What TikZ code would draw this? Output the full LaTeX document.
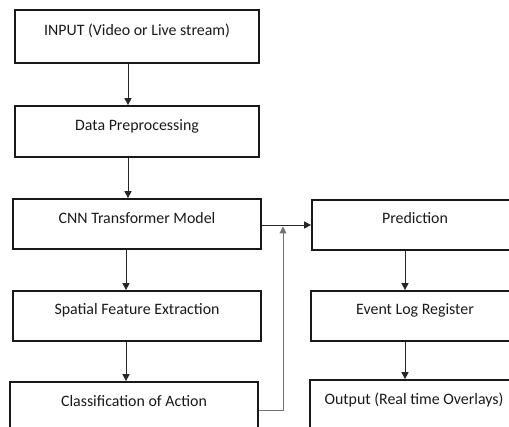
\documentclass[tikz,border=0pt]{standalone}
\usepackage{fontspec}
\setmainfont{Carlito}
\usetikzlibrary{arrows.meta}
\begin{document}
\begin{tikzpicture}[x=1pt,y=-1pt,
  box/.style={draw=black!90, line width=1.7pt, minimum width=#1, inner sep=0pt, minimum height=50},
  lbl/.style={font=\fontsize{15.9}{17}\selectfont, text=black!90, inner sep=0pt, text height=10.5, text depth=0},
  conn/.style={draw=black!85, line width=0.9pt, -{Triangle[length=7pt,width=7pt]}},
  feed/.style={draw=black!55, line width=1pt}]
\useasboundingbox (0,0) rectangle (509,427);
\clip (0,0) rectangle (509,427);
% left column
\node[box=244, minimum height=53] (in) at (137,36.5) {};
\node[lbl] (tin) at (137,30) {INPUT (Video or Live stream)};
\node[box=244, minimum height=51] (dp) at (137,131.5) {};
\node[lbl] (tdp) at (137,125) {Data Preprocessing};
\node[box=248] (cnn) at (137,224) {};
\node[lbl] (tcnn) at (137,218) {CNN Transformer Model};
\node[box=248] (sfe) at (137,316) {};
\node[lbl] (tsfe) at (137,309) {Spatial Feature Extraction};
\node[box=248] (cls) at (134,407) {};
\node[lbl] (tcls) at (134,401) {Classification of Action};
% right column
\node[box=206] (pred) at (415,225) {};
\node[lbl] (tpred) at (415,218) {Prediction};
\node[box=207] (evt) at (414.5,316) {};
\node[lbl] (tevt) at (415,309) {Event Log Register};
\node[box=208] (out) at (414,405) {};
\node[lbl] (tout) at (414,399) {Output (Real time Overlays)};
% connectors
\coordinate (a1) at (128,63);
\draw[conn] (in.south -| a1) -- (dp.north -| a1);
\draw[conn] (dp.south -| a1) -- (cnn.north -| a1);
\coordinate (c1) at (126,249);
\draw[conn] (cnn.south -| c1) -- (sfe.north -| c1);
\draw[conn] (sfe.south -| c1) -- (cls.north -| c1);
\coordinate (d1) at (405,250);
\draw[conn] (pred.south -| d1) -- (evt.north -| d1);
\draw[conn] (evt.south -| d1) -- (out.north -| d1);
\coordinate (h) at (0,225);
\draw[conn] (cnn.east |- h) -- (pred.west |- h);
\coordinate (fb) at (283,411);
\coordinate (fbt) at (283,226.5);
\draw[feed] (cls.east |- fb) -- (fb);
\draw[feed, -{Triangle[length=7pt,width=7pt]}, draw=black!55] (fb) -- (fbt);
\end{tikzpicture}
\end{document}
